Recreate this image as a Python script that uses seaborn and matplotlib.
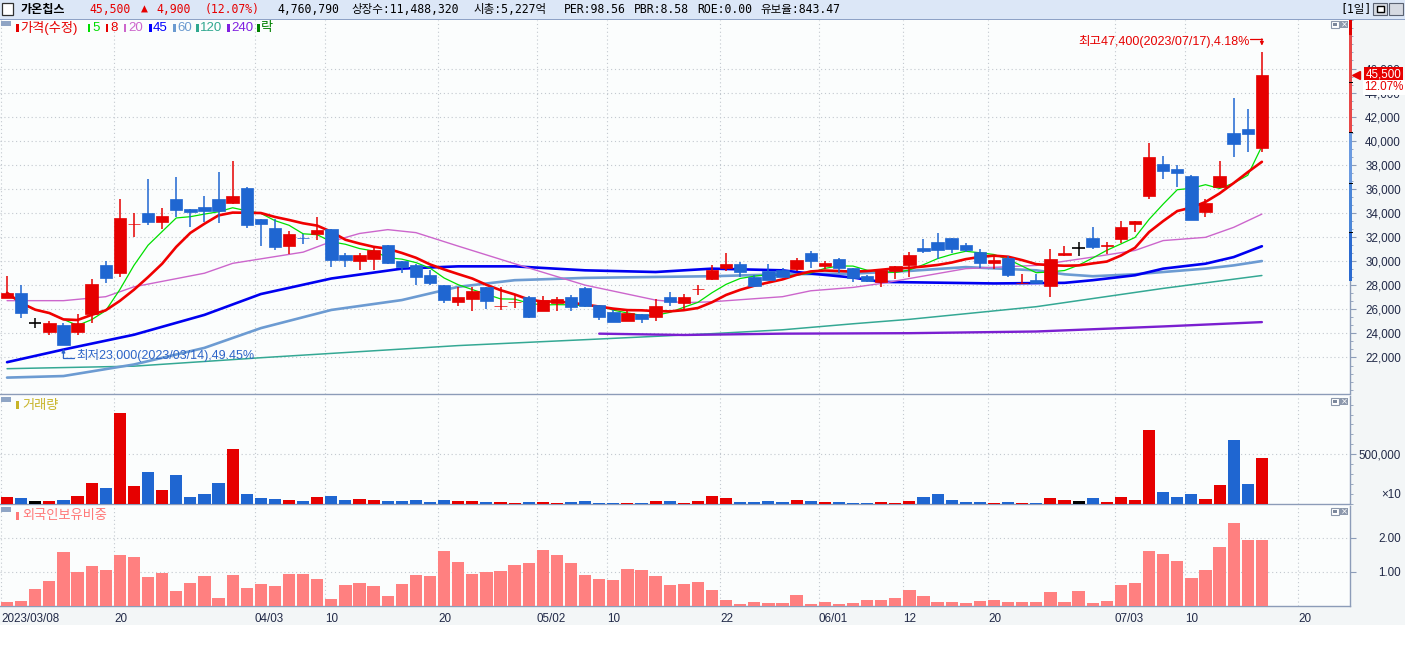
import numpy as np
import pandas as pd
import matplotlib
matplotlib.use("Agg")
import matplotlib.pyplot as plt
import matplotlib.transforms as mtransforms
from matplotlib.patches import Rectangle
from matplotlib.ticker import FixedLocator, MultipleLocator, FuncFormatter
from matplotlib import font_manager
import seaborn as sns

# ---------------- data ----------------
opens = [26960, 27330, 24860, 24080, 24720, 24080, 25620, 29650, 29020, 33050,
         33960, 33220, 35190, 34370, 34540, 35190, 34860, 36100, 33520, 32760,
         31220, 31950, 32260, 32700, 30480, 30010, 30210, 31360, 29980, 29710,
         28830, 28010, 26630, 26860, 27820, 26250, 26600, 27050, 25890, 26500,
         27050, 27760, 26360, 25790, 25070, 25620, 25400, 27050, 26500, 27680,
         28500, 29470, 29740, 28690, 29190, 29240, 29330, 30670, 29570, 30170,
         29470, 28750, 28280, 29190, 29700, 31080, 31630, 31900, 31380, 30750,
         29840, 30260, 28150, 28420, 27950, 30480, 31110, 31900, 31220, 31820,
         33050, 35420, 38050, 37640, 37060, 34120, 36160, 40680, 40950, 39400]
highs = [28750, 28060, 25270, 25050, 24900, 25620, 28530, 29980, 35140, 33990,
         36840, 34400, 36980, 34370, 35420, 37420, 38300, 36160, 33520, 33500,
         32480, 32260, 33630, 32700, 30670, 30670, 31300, 31360, 29980, 29790,
         29240, 28010, 27870, 27870, 27820, 27820, 27190, 27100, 27100, 27050,
         27190, 27820, 26360, 25950, 25950, 25620, 26830, 27460, 27270, 28010,
         29650, 30670, 29930, 28830, 29740, 29470, 30290, 30830, 30010, 30230,
         29470, 28830, 29300, 29570, 30750, 31850, 32310, 31900, 31490, 31030,
         30480, 30400, 28970, 28970, 30970, 31300, 31570, 32860, 31630, 33300,
         33360, 39780, 38710, 37970, 37140, 35140, 38300, 43560, 42600, 47400]
lows = [26900, 25320, 24440, 23890, 23000, 23840, 24900, 28200, 28670, 31980,
        33030, 32670, 33710, 32810, 33220, 33140, 34730, 32720, 31220, 30950,
        30620, 31440, 31770, 29510, 29510, 29300, 29300, 29740, 29020, 28010,
        28010, 26500, 26280, 25890, 26030, 25950, 26090, 25290, 25890, 25890,
        25890, 26170, 25130, 24910, 24990, 24860, 25070, 26280, 25950, 27190,
        28420, 29190, 28690, 27820, 28420, 28690, 29190, 29430, 29350, 29020,
        28280, 28280, 27870, 28560, 28700, 30670, 30210, 30670, 30750, 29470,
        29380, 28690, 28110, 28150, 27050, 30400, 30400, 30970, 30560, 31490,
        32400, 35190, 36840, 36180, 33440, 33690, 36100, 38650, 39060, 39060]
closes = [27370, 25680, 24860, 24860, 23050, 24860, 28090, 28610, 33600, 33100,
          33220, 33770, 34260, 34120, 34180, 34180, 35440, 33000, 33050, 31160,
          32260, 31900, 32620, 30120, 30120, 30480, 30890, 29840, 29510, 28690,
          28200, 26770, 27050, 27510, 26720, 26300, 26650, 25370, 26770, 26860,
          26220, 26280, 25400, 24910, 25680, 25230, 26280, 26630, 27020, 27730,
          29240, 29760, 29080, 27950, 28420, 28690, 30070, 29980, 29840, 29430,
          28640, 28360, 29300, 29570, 30480, 30830, 30890, 31030, 30890, 29840,
          30120, 28890, 28200, 28150, 30210, 30670, 31110, 31160, 31360, 32860,
          33360, 38630, 37500, 37330, 33440, 34860, 37060, 39720, 40600, 45500]
volumes = [70000, 60000, 30000, 30000, 40000, 80000, 211000, 161000, 916000, 181000,
           322000, 141000, 292000, 70000, 101000, 211000, 554000, 101000, 60000, 50000,
           40000, 30000, 70000, 80000, 40000, 50000, 40000, 30000, 30000, 40000,
           20000, 40000, 30000, 30000, 20000, 20000, 10000, 20000, 20000, 10000,
           20000, 30000, 10000, 10000, 10000, 10000, 30000, 30000, 10000, 30000,
           80000, 60000, 20000, 20000, 30000, 20000, 40000, 30000, 20000, 20000,
           10000, 10000, 20000, 10000, 30000, 70000, 101000, 40000, 20000, 20000,
           10000, 20000, 10000, 10000, 60000, 40000, 30000, 60000, 20000, 70000,
           40000, 745000, 121000, 70000, 101000, 50000, 191000, 644000, 201000, 463000]
foreign_ratio = [0.12, 0.15, 0.50, 0.74, 1.59, 1.00, 1.18, 1.06, 1.50, 1.44,
                 0.85, 0.97, 0.44, 0.68, 0.88, 0.24, 0.91, 0.53, 0.65, 0.59,
                 0.94, 0.94, 0.79, 0.21, 0.62, 0.68, 0.59, 0.29, 0.65, 0.91,
                 0.88, 1.62, 1.29, 0.94, 1.00, 1.03, 1.21, 1.26, 1.65, 1.50,
                 1.26, 0.91, 0.79, 0.76, 1.09, 1.06, 0.88, 0.62, 0.65, 0.71,
                 0.47, 0.18, 0.06, 0.12, 0.09, 0.09, 0.32, 0.06, 0.12, 0.06,
                 0.09, 0.18, 0.18, 0.24, 0.47, 0.29, 0.12, 0.12, 0.09, 0.15,
                 0.18, 0.12, 0.12, 0.12, 0.41, 0.12, 0.44, 0.09, 0.15, 0.62,
                 0.68, 1.62, 1.53, 1.32, 0.82, 1.06, 1.74, 2.44, 1.94, 1.94]

# long moving averages (values at sample candles)
ma20_idx = [0, 4, 7, 9, 14, 16, 21, 23, 25, 27, 29, 32, 36, 41, 46, 48, 50, 55, 57, 60,
            62, 64, 68, 73, 77, 80, 82, 85, 87, 89]
ma20_val = [26720, 26720, 27050, 27870, 29000, 29820, 30750, 31630, 32300, 32620,
            32370, 31250, 29790, 28010, 26770, 26550, 26630, 27050, 27540, 27820,
            28150, 28560, 29380, 29650, 30340, 30890, 31710, 31980, 32810, 33910]
ma45_idx = [0, 4, 9, 14, 18, 23, 28, 32, 36, 41, 46, 50, 55, 57, 60, 62, 70, 75, 77, 80,
            82, 85, 87, 89]
ma45_val = [21610, 22660, 23890, 25540, 27270, 28560, 29380, 29570, 29570, 29240,
            29100, 29380, 29240, 28970, 28640, 28280, 28150, 28200, 28420, 28830,
            29380, 29790, 30340, 31240]
ma60_idx = [0, 4, 9, 14, 18, 23, 28, 32, 36, 41, 46, 50, 55, 60, 64, 68, 73, 75, 77, 80,
            82, 85, 87, 89]
ma60_val = [20330, 20460, 21420, 22800, 24440, 25950, 26770, 27870, 28420, 28610,
            28690, 28750, 28910, 28970, 29190, 29510, 29240, 28910, 28750, 28910,
            29100, 29380, 29650, 30010]
ma120_idx = [0, 9, 18, 32, 41, 50, 55, 60, 64, 73, 82, 89]
ma120_val = [21070, 21280, 21980, 22990, 23480, 23980, 24300, 24800, 25170, 26220,
             27740, 28810]
ma240_idx = [42, 48, 55, 64, 73, 82, 89]
ma240_val = [23980, 23870, 23980, 24020, 24160, 24580, 24940]

tick_idx = [0, 8, 18, 23, 31, 38, 43, 51, 58, 64, 70, 79, 84, 92]
tick_labels = ["2023/03/08", "20", "04/03", "10", "20", "05/02", "10", "22",
               "06/01", "12", "20", "07/03", "10", "20"]
price_ticks = list(range(22000, 46001, 2000))
hi_date = "2023/07/17"
lo_date = "2023/03/14"
stock_name = "가온칩스"
day_volume = "4,760,790"
info_fields = ["상장수:11,488,320", "시총:5,227억", "PER:98.56", "PBR:8.58",
               "ROE:0.00", "유보율:843.47"]
legend_items = ["가격(수정)", "5", "8", "20", "45", "60", "120", "240", "락"]
band_edges = [28350, 32420, 36490, 40650, 48790, 50030]

# ---------------- style ----------------
sns.set_theme(style="white")
names = {f.name for f in font_manager.fontManager.ttflist}
NARROW = "Liberation Sans Narrow" in names
NUMF = "Liberation Sans Narrow" if NARROW else "Liberation Sans"
FAM = [NUMF, "Noto Sans CJK KR", "DejaVu Sans"]
MONO = ["DejaVu Sans Mono", "Noto Sans CJK KR"]
plt.rcParams["font.family"] = FAM
NUMSZ = 10 if NARROW else 8.4

RED = "#e60000"
BLUE = "#1f66d1"
SPINE = "#8c9cb8"
TXT = "#222a48"
GRID = "#c2c8cf"
BG = "#fbfdfd"
SIDE = "#f3f6f7"

W, H = 1405, 648
fig = plt.figure(figsize=(W / 100, H / 100), dpi=100)
fig.patch.set_facecolor("white")


def fr(x0, y0, x1, y1):
    return [x0 / W, 1 - y1 / H, (x1 - x0) / W, (y1 - y0) / H]


def rect(x0, y0, x1, y1, z=-5, **kw):
    fig.patches.append(Rectangle((x0 / W, 1 - y1 / H), (x1 - x0) / W, (y1 - y0) / H,
                                 transform=fig.transFigure, zorder=z, **kw))


def ftext(x, y, s, **kw):
    fig.text(x / W, 1 - y / H, s, **kw)


# backgrounds
rect(0, 0, W, 19, fc="#dce7f7", ec="none")
rect(0, 18.5, W, 19.6, fc="#8ea2c6", ec="none")
rect(1350, 20, W, 606, fc=SIDE, ec="none")
rect(0, 606, W, 625, fc=SIDE, ec="none")

axp = fig.add_axes(fr(0, 20, 1350, 393.5))
axv = fig.add_axes(fr(0, 396, 1350, 504))
axf = fig.add_axes(fr(0, 506, 1350, 606))

x = np.arange(len(closes))
o = np.array(opens, float)
c = np.array(closes, float)
h = np.array(highs, float)
l = np.array(lows, float)
colors = np.where(c > o, RED, np.where(c < o, BLUE, "#000000"))
grid_x = np.array(tick_idx) - 0.42

for ax in (axp, axv, axf):
    ax.set_facecolor(BG)
    ax.set_xlim(-0.5, 95.25)
    for s in ("top", "left"):
        ax.spines[s].set_visible(False)
    for s in ("right", "bottom"):
        ax.spines[s].set_color(SPINE)
        ax.spines[s].set_linewidth(1.0)
    ax.set_xticks(grid_x)
    ax.grid(True, which="major", color=GRID, ls=(0, (1, 2.5)), lw=0.8)
    ax.set_axisbelow(True)
    ax.yaxis.tick_right()
    ax.tick_params(axis="y", which="major", direction="out", length=4.3, width=0.8,
                   color=SPINE, labelcolor=TXT, labelsize=NUMSZ, pad=32.4)
    ax.tick_params(axis="y", which="minor", direction="out", length=2.2, width=0.6,
                   color=SPINE)
    ax.tick_params(axis="x", which="both", length=0, labelbottom=False)

# ---------------- price panel ----------------
axp.set_ylim(19010, 50030)
axp.yaxis.set_major_locator(FixedLocator(price_ticks))
axp.yaxis.set_minor_locator(MultipleLocator(2000 / 3))
axp.yaxis.set_major_formatter(FuncFormatter(lambda v, p: f"{v:,.0f}"))

ma5 = pd.Series(c).rolling(5, min_periods=1).mean()
ma8 = pd.Series(c).rolling(8, min_periods=1).mean()
lines = [
    (ma120_idx, ma120_val, "#34a894", 1.1),
    (ma240_idx, ma240_val, "#7a1fd0", 1.7),
    (ma60_idx, ma60_val, "#6c9bd2", 1.9),
    (ma45_idx, ma45_val, "#0000f0", 1.9),
    (ma20_idx, ma20_val, "#cc66cc", 1.0),
    (x, ma5.values, "#00e000", 0.9),
    (x, ma8.values, "#f00000", 1.9),
]
for xi, yi, col, lw in lines:
    sns.lineplot(x=np.asarray(xi, float), y=np.asarray(yi, float), ax=axp, color=col,
                 linewidth=lw, zorder=2)

axp.vlines(x, l, h, colors=colors, lw=1.1, zorder=3)
neq = c != o
axp.bar(x[neq], np.abs(c - o)[neq], bottom=np.minimum(o, c)[neq], width=0.88,
        color=colors[neq], edgecolor=colors[neq], linewidth=0.5, zorder=4)
eq = ~neq
axp.hlines(c[eq], x[eq] - 0.44, x[eq] + 0.44, colors="#000000", lw=1.2, zorder=4)

# high / low annotations
hi_i = int(np.argmax(h)); hi = int(h[hi_i])
lo_i = int(np.argmin(l)); lo = int(l[lo_i])
last = c[-1]
prev = c[-2]
hi_pct = (hi - last) / last * 100
lo_pct = (last - lo) / last * 100
axp.text(hi_i - 0.88, hi + 830, f"최고{hi:,}({hi_date}),{hi_pct:.2f}%", ha="right",
         va="center", color=RED, fontsize=9, zorder=6)
axp.plot([hi_i - 0.85, hi_i], [hi + 1055, hi + 1055], color=RED, lw=0.9, zorder=6)
axp.annotate("", xy=(hi_i, hi + 500), xytext=(hi_i, hi + 1065),
             arrowprops=dict(arrowstyle="-|>", color=RED, lw=0.9, mutation_scale=5,
                             shrinkA=0, shrinkB=0), zorder=6)
LOBLUE = "#2c64c8"
axp.text(lo_i + 0.9, lo - 875, f"최저{lo:,}({lo_date}),{lo_pct:.2f}%", ha="left",
         va="center", color=LOBLUE, fontsize=9, zorder=6)
axp.plot([lo_i, lo_i + 0.75], [lo - 1040, lo - 1040], color=LOBLUE, lw=0.9, zorder=6)
axp.annotate("", xy=(lo_i, lo - 280), xytext=(lo_i, lo - 1050),
             arrowprops=dict(arrowstyle="-|>", color=LOBLUE, lw=0.9, mutation_scale=5,
                             shrinkA=0, shrinkB=0), zorder=6)

# right edge price band
btr = mtransforms.blended_transform_factory(axp.transAxes, axp.transData)
band_cols = ["#2a6ad0", "#4a86d8", "#6a9ae0", "#e84848", "#e00000"]
for k, bc in enumerate(band_cols):
    axp.add_patch(Rectangle((1349 / 1350, band_edges[k]), 3.2 / 1350,
                            band_edges[k + 1] - band_edges[k], transform=btr,
                            fc=bc, ec="none", clip_on=False, zorder=7))
for bv in band_edges[1:4] + [44800]:
    axp.add_patch(Rectangle((1349 / 1350, bv - 40), 4 / 1350, 80, transform=btr,
                            fc="#000000", ec="none", clip_on=False, zorder=8))

# current price tag
axp.plot([1355.5 / 1350], [last], marker="<", ms=6, color=RED, transform=btr,
         clip_on=False, zorder=9)
axp.text(1383.5 / 1350, last, f"{int(last):,}", transform=btr, ha="center",
         va="center", color="white", fontsize=NUMSZ, clip_on=False, zorder=10,
         bbox=dict(boxstyle="square,pad=0.12", fc=RED, ec="none"))
pct = (last - prev) / prev * 100
axp.annotate(f"{pct:.2f}%", xy=(1384 / 1350, last), xycoords=btr, xytext=(0, -9.3),
             textcoords="offset points", ha="center", va="center", color=RED,
             fontsize=NUMSZ, annotation_clip=False, zorder=10,
             bbox=dict(boxstyle="square,pad=0.1", fc="white", ec="none"))

# ---------------- volume panel ----------------
axv.set_ylim(0, 1086500)
axv.bar(x, volumes, width=0.86, color=colors, linewidth=0, zorder=3)
axv.yaxis.set_major_locator(FixedLocator([500000]))
axv.yaxis.set_minor_locator(MultipleLocator(100000))
axv.yaxis.set_major_formatter(FuncFormatter(lambda v, p: f"{v:,.0f}"))

# ---------------- foreign ownership panel ----------------
axf.set_ylim(0, 2.93)
axf.bar(x, foreign_ratio, width=0.87, color="#ff8080", linewidth=0, zorder=3)
axf.yaxis.set_major_locator(FixedLocator([1.0, 2.0]))
axf.yaxis.set_major_formatter(FuncFormatter(lambda v, p: f"{v:.2f}"))
axf.set_xticks(grid_x)
axf.set_xticklabels(tick_labels)
axf.tick_params(axis="x", which="major", direction="out", length=4.3, width=0.8,
                color=SPINE, labelcolor=TXT, labelsize=NUMSZ, pad=0.6, labelbottom=True)

for ax in (axp, axv, axf):
    plt.setp(ax.get_yticklabels(), ha="right")
plt.setp(axf.get_xticklabels(), ha="left")

# ---------------- header ----------------
rect(2, 3, 13, 15, z=5, fc="white", ec="#303030", lw=0.9)
HS = 8.3
ftext(21, 9.5, stock_name, family=MONO, size=HS + 0.4, color="#000000", va="center",
      weight="bold")
ftext(89, 9.5, f"{int(last):,}", family=MONO, size=HS, color=RED, va="center")
ftext(141, 9.5, "▲", family=MONO, size=HS, color=RED, va="center")
ftext(156, 9.5, f"{int(last - prev):,}", family=MONO, size=HS, color=RED, va="center")
ftext(205, 9.5, f"({pct:.2f}%)", family=MONO, size=HS, color=RED, va="center")
ftext(277, 9.5, day_volume, family=MONO, size=HS, color="#000000", va="center")
for s, xp in zip(info_fields, [351, 473, 564, 634, 697, 760]):
    ftext(xp, 9.5, s, family=MONO, size=HS, color="#000000", va="center")
ftext(1340, 9.5, "[1일]", family=MONO, size=HS, color="#000000", va="center")
rect(1373, 3, 1387, 15, z=5, fc="#d6dae2", ec="#5a6272", lw=0.8)
rect(1376.5, 6, 1383.5, 12, z=6, fc="white", ec="#000000", lw=1.0)
rect(1389, 3, 1403, 15, z=5, fc="#d6dae2", ec="#5a6272", lw=0.8)
ftext(1396, 9.3, "✕", family=["DejaVu Sans"], size=7, color="#000000", va="center",
      ha="center", weight="bold")

# panel icons & labels
for ytop in (21, 397, 507):
    rect(1, ytop, 10.5, ytop + 5, z=5, fc="#8fa5c5", ec="none")
for ytop in (21, 398, 508):
    rect(1330.5, ytop, 1338.5, ytop + 7, z=5, fc="white", ec="#8c98ac", lw=0.8)
    rect(1332.5, ytop + 2, 1336.5, ytop + 5, z=6, fc="#7c889c", ec="none")
    rect(1340, ytop, 1348, ytop + 7, z=5, fc="#8c98ac", ec="none")
    ftext(1344, ytop + 3.6, "×", family=["DejaVu Sans"], size=6, color="white",
          ha="center", va="center", zorder=7)

legend_cols = [RED, "#00dd00", RED, "#cc66cc", "#0000ff", "#6a9ad0", "#30a890",
               "#8020e0", "#008000"]
legend_x = [16, 88, 106, 124, 149, 173, 196, 227, 257]
for s, colr, xp in zip(legend_items, legend_cols, legend_x):
    rect(xp, 24, xp + 2.5, 32, z=5, fc=colr, ec="none")
    ftext(xp + 4, 28, s, color=colr, size=9.5, va="center")
rect(16, 401, 18.5, 409, z=5, fc="#c8b428", ec="none")
ftext(22, 405.5, "거래량", color="#c8b428", size=9.5, va="center")
rect(16, 512, 18.5, 520, z=5, fc="#ff7878", ec="none")
ftext(22, 516, "외국인보유비중", color="#ff7878", size=9.5, va="center")
ftext(1401, 495, "×10", color=TXT, size=NUMSZ, ha="right", va="center")

fig.savefig("out.png", dpi=100, facecolor=fig.get_facecolor())
